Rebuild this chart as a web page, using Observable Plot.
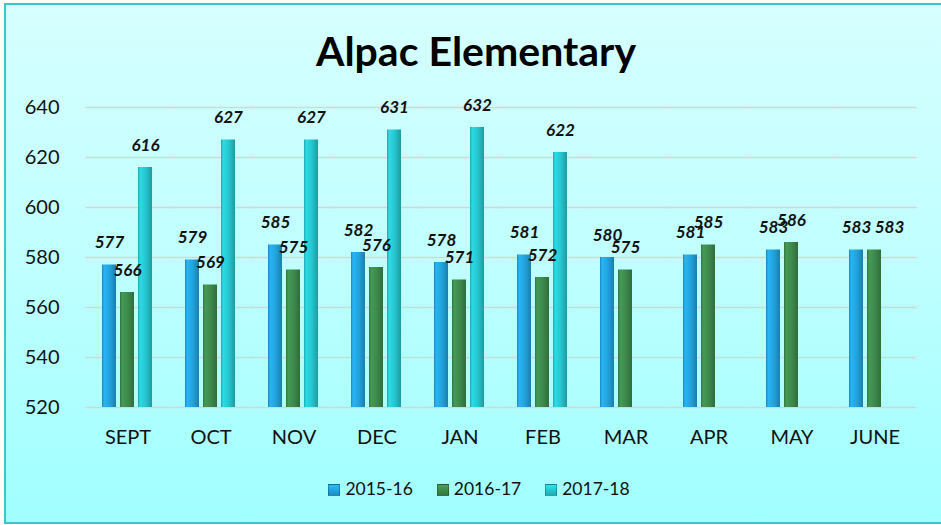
<!DOCTYPE html>
<html>
<head>
<meta charset="utf-8">
<script src="https://cdn.jsdelivr.net/npm/d3@7"></script>
<script src="https://cdn.jsdelivr.net/npm/@observablehq/plot@0.6"></script>
<style>
  html, body { margin: 0; padding: 0; width: 941px; height: 525px; overflow: hidden; background: #ffffff; }
  #frame {
    position: absolute; left: 4px; top: 3px; width: 940px; height: 517px;
    border: 2px solid #3cc6cc;
    background: linear-gradient(to bottom, #d6ffff 0%, #c2ffff 45%, #a0ffff 100%);
  }
  #title {
    position: absolute; left: 0; top: 26px; width: 952px; text-align: center;
    font-family: Lato, "Open Sans", sans-serif; font-weight: 700; font-size: 41px; color: #000;
  }
  #chart { position: absolute; left: 0; top: 0; }
  #legend {
    position: absolute; left: 0; top: 478px; width: 958px; text-align: center;
    font-family: Lato, "Open Sans", sans-serif; font-size: 17.5px; color: #111;
  }
  .item { display: inline-block; margin: 0 12px; }
  .sw { display: inline-block; width: 12px; height: 12px; margin-right: 5px; vertical-align: -1px; border: 1px solid rgba(0,0,0,0.25); box-sizing: border-box; }
</style>
</head>
<body>
<div id="frame"></div>
<div id="title">Alpac Elementary</div>
<div id="chart"></div>
<div id="legend"></div>
<script>
const months = ["SEPT","OCT","NOV","DEC","JAN","FEB","MAR","APR","MAY","JUNE"];
const seriesNames = ["2015-16","2016-17","2017-18"];
const values1516 = [577,579,585,582,578,581,580,581,583,583];
const values1617 = [566,569,575,576,571,572,575,585,586,583];
const values1718 = [616,627,627,631,632,622,null,null,null,null];
const yTicks = [520,540,560,580,600,620,640];
const seriesColors = ["#22a3dd","#3d8a4c","#26c6cf"];

const allSeries = [values1516, values1617, values1718];
const data = [];
months.forEach((m, i) => {
  seriesNames.forEach((s, j) => {
    const v = allSeries[j][i];
    if (v != null) data.push({month: m, series: s, value: v});
  });
});
// in the last month the two equal labels are set apart, as in the original
const isNudged = d => d.month === months[months.length - 1] && d.series === seriesNames[1];

const gradIds = ["g0","g1","g2"];
const labelStyle = {fontSize: 17, fontWeight: "bold", fontStyle: "italic", fill: "#111"};
const chart = Plot.plot({
  width: 941,
  height: 470,
  marginLeft: 83,
  marginRight: 23,
  marginTop: 107,
  marginBottom: 63,
  style: {background: "transparent", fontFamily: "Lato, 'Open Sans', sans-serif"},
  fx: {domain: months, paddingInner: 0.365, paddingOuter: 0.18, label: null},
  x: {domain: seriesNames, paddingInner: 0.21, paddingOuter: 0, axis: null},
  y: {domain: [yTicks[0], yTicks[yTicks.length-1]], label: null},
  color: {domain: seriesNames, range: gradIds.map(id => `url(#${id})`)},
  marks: [
    Plot.ruleY(yTicks, {stroke: "#dcd2d4", strokeOpacity: 1, strokeWidth: 1.6, insetLeft: -15.6, insetRight: -15.6}),
    Plot.axisY(yTicks, {tickSize: 0, tickPadding: 42, fontSize: 20, fill: "#111", label: null}),
    Plot.axisFx({anchor: "bottom", tickSize: 0, tickPadding: 22, fontSize: 20, fill: "#111", label: null}),
    Plot.barY(data, {fx: "month", x: "series", y1: yTicks[0], y2: "value", fill: "series"}),
    Plot.text(data.filter(d => !isNudged(d)), {fx: "month", x: "series", y: "value", text: d => String(d.value), dy: -22, ...labelStyle}),
    Plot.text(data.filter(isNudged), {fx: "month", x: "series", y: "value", text: d => String(d.value), dy: -22, dx: 15, ...labelStyle})
  ]
});

// gradients for bar shading
const svg = d3.select(chart);
const defs = svg.insert("defs", ":first-child");
seriesColors.forEach((c, i) => {
  const base = d3.color(c);
  const g = defs.append("linearGradient").attr("id", gradIds[i]).attr("x1", 0).attr("x2", 1).attr("y1", 0).attr("y2", 0);
  g.append("stop").attr("offset", "0%").attr("stop-color", base.darker(0.5));
  g.append("stop").attr("offset", "15%").attr("stop-color", base.brighter(0.3));
  g.append("stop").attr("offset", "55%").attr("stop-color", base);
  g.append("stop").attr("offset", "100%").attr("stop-color", base.darker(0.7));
});
document.getElementById("chart").appendChild(chart);

const legend = document.getElementById("legend");
seriesNames.forEach((s, i) => {
  const item = document.createElement("span");
  item.className = "item";
  const sw = document.createElement("span");
  sw.className = "sw";
  const c = d3.color(seriesColors[i]);
  sw.style.background = `linear-gradient(to bottom, ${c.brighter(0.4)}, ${c.darker(0.4)})`;
  item.appendChild(sw);
  item.appendChild(document.createTextNode(s));
  legend.appendChild(item);
});
</script>
</body>
</html>
